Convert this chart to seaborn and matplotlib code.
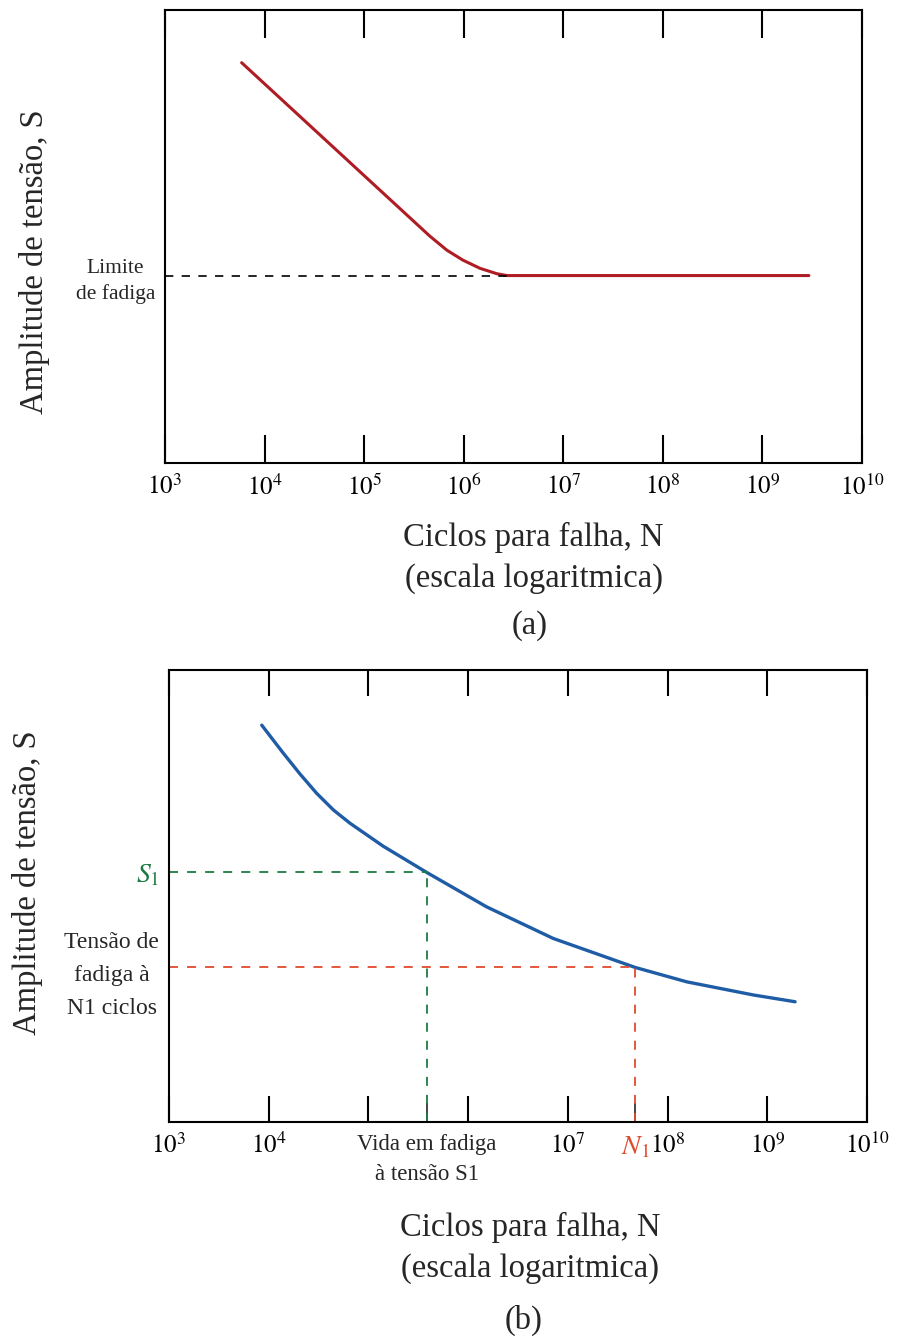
import numpy as np
import pandas as pd
import seaborn as sns
import matplotlib.pyplot as plt

# ---- data (S is in arbitrary units, 0..1) ----
# (a) curve with fatigue limit
n_a = [5.89e3, 4.58e5, 6.79e5, 9.84e5, 1.46e6, 2.16e6, 2.72e6, 2.94e9]
s_a = [0.884, 0.501, 0.470, 0.448, 0.430, 0.418, 0.414, 0.414]
limite_fadiga = 0.414

# (b) curve without fatigue limit
n_b = [8.51e3, 1.10e4, 1.40e4, 2.04e4, 3.03e4, 4.47e4, 6.53e4, 1.41e5,
       3.85e5, 1.53e6, 7.14e6, 4.72e7, 1.56e8, 7.24e8, 1.90e9]
s_b = [0.878, 0.846, 0.816, 0.771, 0.727, 0.690, 0.661, 0.610,
       0.552, 0.476, 0.406, 0.342, 0.310, 0.281, 0.266]
S1 = 0.552
N_S1 = 3.85e5
N1 = 4.72e7
S_N1 = 0.342

decades = [1e3, 1e4, 1e5, 1e6, 1e7, 1e8, 1e9, 1e10]
labels_a = ['$10^{%d}$' % k for k in range(3, 11)]
labels_b = ['$10^{3}$', '$10^{4}$', '', '', '$10^{7}$', '$10^{8}$', '$10^{9}$', '$10^{10}$']

df_a = pd.DataFrame({'N': n_a, 'S': s_a})
df_b = pd.DataFrame({'N': n_b, 'S': s_b})

sns.set_style('white')
plt.rcParams['font.family'] = ['Liberation Serif', 'DejaVu Serif']
plt.rcParams['mathtext.fontset'] = 'stix'

red = '#b01c24'
blue = '#1f5ca6'
green = '#1e7b45'
orange = '#e04a2c'

fig = plt.figure(figsize=(8.98, 13.36), dpi=100)
ax1 = fig.add_axes([0.1837, 0.6534, 0.776, 0.339])
ax2 = fig.add_axes([0.1882, 0.1602, 0.7773, 0.3383])


def style_axes(ax, tick_len):
    ax.set_xscale('log')
    ax.set_xlim(1e3, 1e10)
    ax.set_ylim(0, 1)
    for sp in ax.spines.values():
        sp.set_visible(True)
        sp.set_color('black')
        sp.set_linewidth(1.5)
    ax.tick_params(axis='x', which='major', direction='in', top=True, bottom=True,
                   length=tick_len, width=1.5, pad=8, labelsize=18, colors='black')
    ax.tick_params(axis='y', length=0, pad=7)


# ---- (a) ----
sns.lineplot(data=df_a, x='N', y='S', ax=ax1, color=red, linewidth=2.2, sort=False)
style_axes(ax1, 20)
ax1.set_xticks(decades, labels_a)
ax1.set_xticks([], minor=True)
ax1.hlines(limite_fadiga, 1e3, n_a[6], colors='black', linestyles=(0, (5, 5)), linewidth=1.2)
ax1.set_yticks([limite_fadiga], ['Limite\nde fadiga'])
for t in ax1.get_yticklabels():
    t.set_fontsize(15.5)
    t.set_multialignment('center')
    t.set_linespacing(1.45)
ax1.set_ylabel('Amplitude de tensão, S', fontsize=23.5)
ax1.yaxis.set_label_coords(-0.165, 0.444)
ax1.set_xlabel('Ciclos para falha, N\n(escala logaritmica)', fontsize=23.5, linespacing=1.45)
ax1.xaxis.set_label_coords(0.529, -0.13)
fig.text(530 / 898, 1 - 626 / 1336, '(a)', fontsize=23.5, ha='center', va='center')

# ---- (b) ----
sns.lineplot(data=df_b, x='N', y='S', ax=ax2, color=blue, linewidth=2.4, sort=False)
style_axes(ax2, 19)
ax2.set_xticks(decades, labels_b)
ax2.set_xticks([N_S1, N1], ['Vida em fadiga\nà tensão S1', '$N_1$'], minor=True)
ax2.tick_params(axis='x', which='minor', direction='in', top=False, bottom=True,
                length=14, width=1.2, pad=9)
mticks = ax2.xaxis.get_minor_ticks()
mticks[0].tick1line.set_color(green)
mticks[1].tick1line.set_color(orange)
ml = ax2.get_xticklabels(minor=True)
ml[0].set_fontsize(16.5)
ml[0].set_multialignment('center')
ml[0].set_linespacing(1.55)
ml[1].set_fontsize(20)
ml[1].set_color(orange)

ax2.hlines(S1, 1e3, N_S1, colors=green, linestyles=(0, (5, 5)), linewidth=1.3)
ax2.vlines(N_S1, 0, S1, colors=green, linestyles=(0, (5, 5)), linewidth=1.3)
ax2.hlines(S_N1, 1e3, N1, colors=orange, linestyles=(0, (5, 5)), linewidth=1.3)
ax2.vlines(N1, 0, S_N1, colors=orange, linestyles=(0, (5, 5)), linewidth=1.3)

ax2.set_yticks([S1, S_N1], ['$S_1$', 'Tensão de\nfadiga à\nN1 ciclos'])
yl = ax2.get_yticklabels()
yl[0].set_color(green)
yl[0].set_fontsize(20)
yl[1].set_fontsize(17)
yl[1].set_multialignment('center')
yl[1].set_linespacing(1.75)
ax2.set_ylabel('Amplitude de tensão, S', fontsize=23.5)
ax2.yaxis.set_label_coords(-0.18, 0.53)
ax2.set_xlabel('Ciclos para falha, N\n(escala logaritmica)', fontsize=23.5, linespacing=1.45)
ax2.xaxis.set_label_coords(0.517, -0.199)
fig.text(524 / 898, 1 - 1320 / 1336, '(b)', fontsize=23.5, ha='center', va='center')

fig.savefig('out.png', dpi=100, facecolor='white')
